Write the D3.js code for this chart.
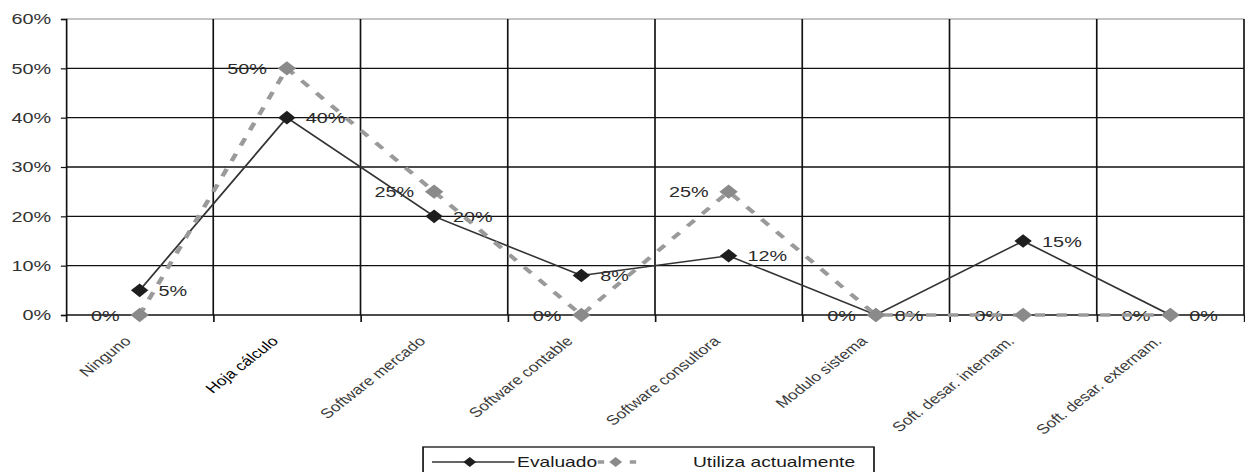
<!DOCTYPE html>
<html><head><meta charset="utf-8">
<script src="https://cdn.jsdelivr.net/npm/d3@7"></script>
<style>html,body{margin:0;padding:0;background:#fff;overflow:hidden}</style>
</head><body>
<script>
// Categories and series (percent)
const categories = ["Ninguno", "Hoja cálculo", "Software mercado", "Software contable",
  "Software consultora", "Modulo sistema", "Soft. desar. internam.", "Soft. desar. externam."];
const evaluado = [5, 40, 20, 8, 12, 0, 15, 0];
const utiliza = [0, 50, 25, 0, 25, 0, 0, 0];
const yTicks = [0, 10, 20, 30, 40, 50, 60];
const seriesNames = ["Evaluado", "Utiliza actualmente"];

// The chart is laid out in a narrower frame and stretched horizontally to fill the page
const W = 1245, H = 472, sx = 1.28, VW = W / sx;
const FONT = "'Liberation Sans', Arial, sans-serif";

const svg = d3.select("body").append("svg")
  .attr("width", W).attr("height", H)
  .attr("viewBox", `0 0 ${VW} ${H}`)
  .attr("preserveAspectRatio", "none")
  .style("display", "block");

const plotL = 66 / sx, plotR = 1244 / sx, plotT = 19, plotB = 315;
const x = d3.scaleBand().domain(categories).range([plotL, plotR]);
const xEdge = d3.scaleLinear().domain([0, categories.length]).range([plotL, plotR]);
const y = d3.scaleLinear().domain([0, 60]).range([plotB, plotT]);
const cx = c => x(c) + x.bandwidth() / 2;

// Horizontal gridlines
svg.append("g").selectAll("line").data(yTicks.filter(t => t > 0)).join("line")
  .attr("x1", plotL).attr("x2", plotR)
  .attr("y1", d => y(d)).attr("y2", d => y(d))
  .attr("stroke", d => d === 60 ? "#8a8a8a" : "#111")
  .attr("stroke-width", d => d === 60 ? 1.1 : 1.3);

// Vertical gridlines at category boundaries
svg.append("g").selectAll("line").data(d3.range(1, categories.length + 1)).join("line")
  .attr("x1", d => xEdge(d)).attr("x2", d => xEdge(d))
  .attr("y1", plotT).attr("y2", plotB)
  .attr("stroke", "#111").attr("stroke-width", 1.3);

// Y axis
const yAxis = svg.append("g").attr("transform", `translate(${plotL},0)`)
  .call(d3.axisLeft(y).tickValues(yTicks).tickSize(4).tickPadding(7.6).tickFormat(d => d + "%"));
yAxis.select(".domain").attr("stroke", "#111").attr("stroke-width", 1.3);
yAxis.selectAll(".tick line").attr("stroke", "#111").attr("stroke-width", 1.2);
yAxis.selectAll("text").attr("font-family", FONT).attr("font-size", 15.5).attr("fill", "#333");

// X axis: tick marks at boundaries
const xTicks = svg.append("g").attr("transform", `translate(0,${plotB})`)
  .call(d3.axisBottom(xEdge).tickValues(d3.range(0, categories.length + 1)).tickSize(7).tickFormat(""));
xTicks.select(".domain").remove();
xTicks.selectAll(".tick line").attr("stroke", "#111").attr("stroke-width", 1.3);
svg.append("line").attr("x1", plotL).attr("x2", plotR).attr("y1", plotB).attr("y2", plotB)
  .attr("stroke", "#111").attr("stroke-width", 1.4);

// X axis: rotated category labels
const xLabels = svg.append("g").attr("transform", `translate(0,${plotB})`)
  .call(d3.axisBottom(x).tickSize(0).tickPadding(0));
xLabels.select(".domain").remove();
xLabels.selectAll("text")
  .attr("font-family", FONT).attr("font-size", 13.5)
  .attr("fill", (d, i) => i === 1 ? "#000" : "#3a3a3a")
  .attr("text-anchor", "end")
  .attr("dy", 0)
  .attr("transform", "translate(-6,27) rotate(-45)");

const diamond = r => `M0,${-r}L${r},0L0,${r}L${-r},0Z`;

// Data labels
const labels = svg.append("g").attr("font-family", FONT).attr("font-size", 15.5).attr("fill", "#2a2a2a");
labels.selectAll("text.u").data(categories).join("text").attr("class", "u")
  .attr("x", c => cx(c) - 15.6).attr("y", (c, i) => y(utiliza[i])).attr("dy", "0.36em")
  .attr("text-anchor", "end").text((c, i) => utiliza[i] + "%");
labels.selectAll("text.e").data(categories).join("text").attr("class", "e")
  .attr("x", c => cx(c) + 14.8).attr("y", (c, i) => y(evaluado[i])).attr("dy", "0.36em")
  .attr("text-anchor", "start").text((c, i) => evaluado[i] + "%");

// Evaluado: solid line with dark diamonds
const lineE = d3.line().x((d, i) => cx(categories[i])).y(d => y(d));
svg.append("path").datum(evaluado).attr("d", lineE)
  .attr("fill", "none").attr("stroke", "#333").attr("stroke-width", 1.5);
svg.append("g").selectAll("path").data(evaluado).join("path")
  .attr("d", diamond(6.8))
  .attr("transform", (d, i) => `translate(${cx(categories[i])},${y(d)})`)
  .attr("fill", "#1e1e1e");

// Utiliza actualmente: dashed grey line with grey diamonds
svg.append("path").datum(utiliza).attr("d", lineE)
  .attr("fill", "none").attr("stroke", "#9a9a9a").attr("stroke-width", 3.6)
  .attr("stroke-dasharray", "8,9");
svg.append("g").selectAll("path").data(utiliza).join("path")
  .attr("d", diamond(7.2))
  .attr("transform", (d, i) => `translate(${cx(categories[i])},${y(d)})`)
  .attr("fill", "#8a8a8a");

// Legend
const lg = svg.append("g");
lg.append("rect").attr("x", 330.5).attr("y", 447).attr("width", 352.3).attr("height", 40)
  .attr("fill", "#fff").attr("stroke", "#111").attr("stroke-width", 1.3);
const ly = 462;
lg.append("line").attr("x1", 337.5).attr("x2", 402).attr("y1", ly).attr("y2", ly)
  .attr("stroke", "#333").attr("stroke-width", 1.5);
lg.append("path").attr("d", diamond(5)).attr("transform", `translate(367,${ly})`).attr("fill", "#1e1e1e");
lg.append("text").attr("x", 404).attr("y", ly).attr("dy", "0.36em")
  .attr("font-family", FONT).attr("font-size", 15).attr("fill", "#1a1a1a").text(seriesNames[0]);
lg.append("line").attr("x1", 467).attr("x2", 497).attr("y1", ly).attr("y2", ly)
  .attr("stroke", "#9a9a9a").attr("stroke-width", 3.6).attr("stroke-dasharray", "5,20,5");
lg.append("path").attr("d", diamond(5)).attr("transform", `translate(481,${ly})`).attr("fill", "#8a8a8a");
lg.append("text").attr("x", 541.4).attr("y", ly).attr("dy", "0.36em")
  .attr("font-family", FONT).attr("font-size", 15).attr("fill", "#1a1a1a").text(seriesNames[1]);
</script>
</body></html>
